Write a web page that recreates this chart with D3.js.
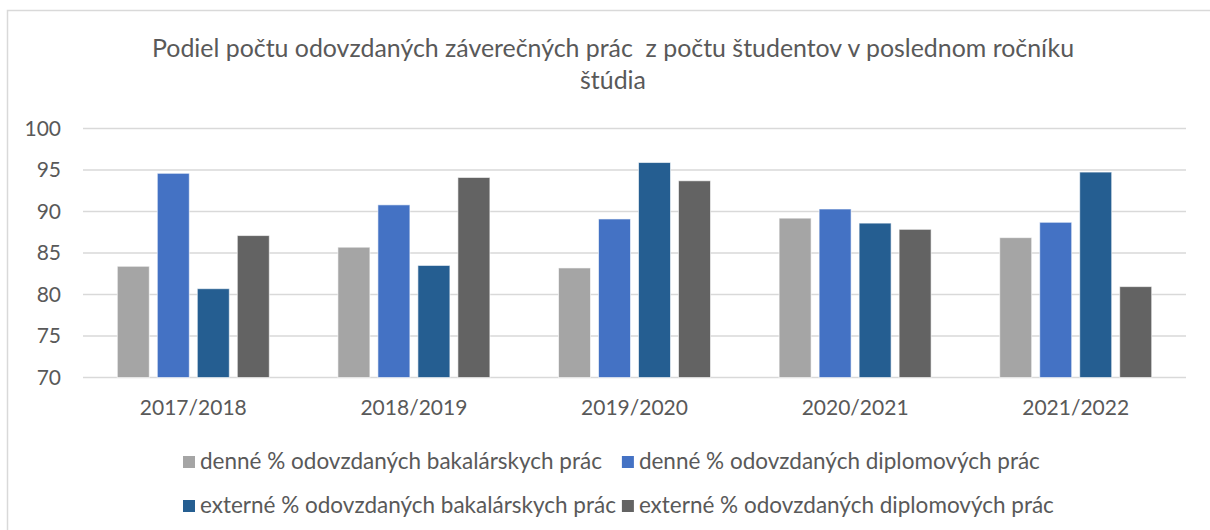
<!DOCTYPE html>
<html>
<head>
<meta charset="utf-8">
<script src="https://cdn.jsdelivr.net/npm/d3@7"></script>
<style>
  html, body { margin: 0; padding: 0; background: #fff; }
  svg { display: block; font-family: Lato, "Open Sans", sans-serif; }
</style>
</head>
<body>
<div id="chart"></div>
<script>
const categories = ['2017/2018', '2018/2019', '2019/2020', '2020/2021', '2021/2022'];
const seriesNames = [
  'denné % odovzdaných bakalárskych prác',
  'denné % odovzdaných diplomových prác',
  'externé % odovzdaných bakalárskych prác',
  'externé % odovzdaných diplomových prác'
];
const denneBak = [83.4, 85.7, 83.2, 89.2, 86.85];
const denneDip = [94.6, 90.8, 89.1, 90.3, 88.7];
const externeBak = [80.7, 83.5, 95.9, 88.6, 94.75];
const externeDip = [87.1, 94.1, 93.7, 87.85, 80.95];
const yTicks = [70, 75, 80, 85, 90, 95, 100];
const colors = ['#A5A5A5', '#4472C4', '#255E91', '#636363'];

const seriesValues = [denneBak, denneDip, externeBak, externeDip];
const width = 1210, height = 530;
const margin = { left: 83, right: 24, top: 128.5, bottom: 152.5 }; // plot 83..1186, 128.5..377.5
const fontAxis = '21px';

const svg = d3.select('#chart').append('svg')
  .attr('width', width)
  .attr('height', height);

// ramik grafu (vidno len hornu a lavu stranu)
svg.append('rect')
  .attr('x', 7.5).attr('y', 10.5)
  .attr('width', 1300).attr('height', 600)
  .attr('fill', 'none')
  .attr('stroke', '#D9D9D9')
  .attr('stroke-width', 1.5);

// nadpis
const title = svg.append('text')
  .attr('text-anchor', 'middle')
  .attr('fill', '#595959')
  .attr('xml:space', 'preserve')
  .style('font-size', '24.9px');
title.append('tspan').attr('x', 613).attr('y', 57)
  .text('Podiel počtu odovzdaných záverečných prác  z počtu študentov v poslednom ročníku');
title.append('tspan').attr('x', 613).attr('y', 89).text('štúdia');

const x0 = d3.scaleBand()
  .domain(categories)
  .range([margin.left, width - margin.right]);

const groupW = 152;
const x1 = d3.scaleBand()
  .domain(d3.range(seriesNames.length))
  .range([(x0.bandwidth() - groupW) / 2, (x0.bandwidth() + groupW) / 2])
  .paddingInner(0.2);

const y = d3.scaleLinear()
  .domain([70, 100])
  .range([height - margin.bottom, margin.top]);

// mriezka
svg.append('g')
  .selectAll('line')
  .data(yTicks)
  .join('line')
  .attr('x1', margin.left)
  .attr('x2', width - margin.right)
  .attr('y1', d => y(d))
  .attr('y2', d => y(d))
  .attr('stroke', '#D9D9D9')
  .attr('stroke-width', 1.5);

// os y
const yAxis = svg.append('g')
  .attr('transform', `translate(${margin.left - 22},0)`)
  .call(d3.axisLeft(y).tickValues(yTicks).tickSize(0).tickPadding(0));
yAxis.select('.domain').remove();
yAxis.selectAll('text')
  .attr('fill', '#595959')
  .style('font-size', fontAxis)
  .style('font-family', 'Lato, "Open Sans", sans-serif');

// os x
const xAxis = svg.append('g')
  .attr('transform', `translate(0,${y(70)})`)
  .call(d3.axisBottom(x0).tickSize(0).tickPadding(23));
xAxis.select('.domain').remove();
xAxis.selectAll('text')
  .attr('fill', '#595959')
  .style('font-size', fontAxis)
  .style('font-family', 'Lato, "Open Sans", sans-serif');

// stlpce
const groups = svg.append('g')
  .selectAll('g')
  .data(categories)
  .join('g')
  .attr('transform', d => `translate(${x0(d)},0)`);

groups.selectAll('rect')
  .data((d, i) => seriesValues.map((vals, s) => ({ s, v: vals[i] })))
  .join('rect')
  .attr('x', d => x1(d.s))
  .attr('width', x1.bandwidth())
  .attr('y', d => y(d.v))
  .attr('height', d => y(70) - y(d.v))
  .attr('fill', d => colors[d.s])
  .attr('stroke', '#fff')
  .attr('stroke-opacity', 0.6)
  .attr('stroke-width', 1);

// legenda, 2 stlpce x 2 riadky
const legend = svg.append('g').style('font-size', '22.5px');
const items = legend.selectAll('g')
  .data(seriesNames)
  .join('g');
items.append('rect')
  .attr('width', 12).attr('height', 12)
  .attr('y', -13)
  .attr('fill', (d, i) => colors[i]);
items.append('text')
  .attr('x', 17)
  .attr('fill', '#595959')
  .text(d => d);

const widths = [];
items.each(function (d, i) {
  widths[i] = d3.select(this).select('text').node().getComputedTextLength() + 17;
});
const col1 = Math.max(widths[0], widths[2]) + 6;
const startX = 183;
const rowY = [469, 513];
items.attr('transform', (d, i) => `translate(${startX + (i % 2) * col1},${rowY[Math.floor(i / 2)]})`);
</script>
</body>
</html>
